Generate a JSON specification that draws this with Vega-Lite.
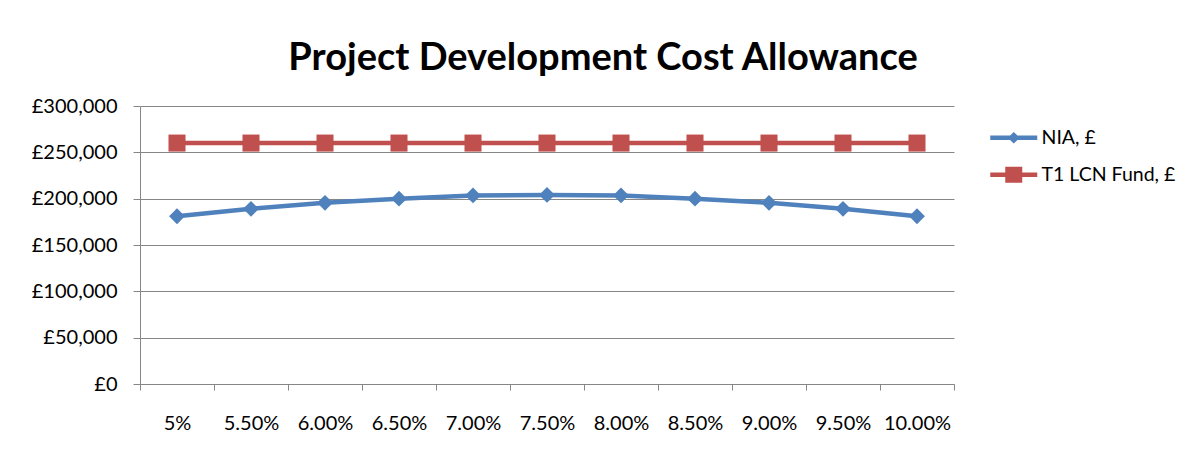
{
  "$schema": "https://vega.github.io/schema/vega-lite/v6.json",
  "width": 814,
  "height": 278,
  "autosize": "none",
  "padding": {"left": 140, "top": 106, "right": 235, "bottom": 66},
  "background": "white",
  "title": {
    "text": "Project Development Cost Allowance",
    "font": "Lato",
    "fontSize": 38,
    "fontWeight": "bold",
    "color": "#000000",
    "anchor": "middle",
    "frame": "group",
    "dx": 56,
    "offset": 18
  },
  "data": {
    "values": [
      {"rate": "5%", "series": "NIA, £", "value": 181000},
      {"rate": "5.50%", "series": "NIA, £", "value": 189000},
      {"rate": "6.00%", "series": "NIA, £", "value": 195500},
      {"rate": "6.50%", "series": "NIA, £", "value": 200000},
      {"rate": "7.00%", "series": "NIA, £", "value": 203500},
      {"rate": "7.50%", "series": "NIA, £", "value": 204000},
      {"rate": "8.00%", "series": "NIA, £", "value": 203500},
      {"rate": "8.50%", "series": "NIA, £", "value": 200000},
      {"rate": "9.00%", "series": "NIA, £", "value": 195500},
      {"rate": "9.50%", "series": "NIA, £", "value": 189000},
      {"rate": "10.00%", "series": "NIA, £", "value": 181000},
      {"rate": "5%", "series": "T1 LCN Fund, £", "value": 260000},
      {"rate": "5.50%", "series": "T1 LCN Fund, £", "value": 260000},
      {"rate": "6.00%", "series": "T1 LCN Fund, £", "value": 260000},
      {"rate": "6.50%", "series": "T1 LCN Fund, £", "value": 260000},
      {"rate": "7.00%", "series": "T1 LCN Fund, £", "value": 260000},
      {"rate": "7.50%", "series": "T1 LCN Fund, £", "value": 260000},
      {"rate": "8.00%", "series": "T1 LCN Fund, £", "value": 260000},
      {"rate": "8.50%", "series": "T1 LCN Fund, £", "value": 260000},
      {"rate": "9.00%", "series": "T1 LCN Fund, £", "value": 260000},
      {"rate": "9.50%", "series": "T1 LCN Fund, £", "value": 260000},
      {"rate": "10.00%", "series": "T1 LCN Fund, £", "value": 260000}
    ]
  },
  "encoding": {
    "x": {
      "field": "rate",
      "type": "ordinal",
      "sort": ["5%", "5.50%", "6.00%", "6.50%", "7.00%", "7.50%", "8.00%", "8.50%", "9.00%", "9.50%", "10.00%"],
      "scale": {"type": "band", "paddingInner": 0, "paddingOuter": 0},
      "axis": {
        "title": null,
        "tickBand": "extent",
        "labelAngle": 0,
        "grid": false,
        "domainColor": "#868686",
        "tickColor": "#868686",
        "tickSize": 6,
        "labelFont": "Lato",
        "labelFontSize": 20,
        "labelColor": "#000000",
        "labelPadding": 23
      }
    },
    "y": {
      "field": "value",
      "type": "quantitative",
      "scale": {"domain": [0, 300000]},
      "axis": {
        "title": null,
        "values": [0, 50000, 100000, 150000, 200000, 250000, 300000],
        "labelExpr": "'£' + format(datum.value, ',')",
        "grid": true,
        "gridColor": "#868686",
        "gridWidth": 1,
        "domainColor": "#868686",
        "tickColor": "#868686",
        "tickSize": 7,
        "labelPadding": 16,
        "labelFont": "Lato",
        "labelFontSize": 20,
        "labelColor": "#000000"
      }
    },
    "color": {
      "field": "series",
      "type": "nominal",
      "scale": {"domain": ["NIA, £", "T1 LCN Fund, £"], "range": ["#4F81BD", "#C0504D"]},
      "legend": {
        "title": null,
        "orient": "none",
        "legendX": 847,
        "legendY": 22,
        "padding": 0,
        "symbolSize": 100,
        "symbolOffset": 17,
        "labelOffset": 18,
        "labelFont": "Lato",
        "labelFontSize": 19.5,
        "labelColor": "#000000",
        "rowPadding": 16,
        "encode": {
          "symbols": {
            "update": {
              "shape": {"signal": "datum.value === 'NIA, £' ? 'M-4.7,-0.45L4.7,-0.45L4.7,0.45L-4.7,0.45Z M0,-1.15L1.2,0L0,1.15L-1.2,0Z' : 'M-4.7,-0.45L4.7,-0.45L4.7,0.45L-4.7,0.45Z M-1.7,-1.6L1.7,-1.6L1.7,1.6L-1.7,1.6Z'"},
              "size": {"value": 100},
              "fill": {"signal": "datum.value === 'NIA, £' ? '#4F81BD' : '#C0504D'"},
              "stroke": {"value": "transparent"},
              "strokeWidth": {"value": 0},
              "opacity": {"value": 1}
            }
          }
        }
      }
    }
  },
  "layer": [
    {"mark": {"type": "line", "strokeWidth": 4.5}},
    {
      "transform": [{"filter": "datum.series === 'NIA, £'"}],
      "mark": {"type": "point", "filled": true, "opacity": 1, "shape": "diamond", "size": 250}
    },
    {
      "transform": [{"filter": "datum.series === 'T1 LCN Fund, £'"}],
      "mark": {"type": "point", "filled": true, "opacity": 1, "shape": "square", "size": 290}
    }
  ],
  "config": {"view": {"stroke": null}}
}
